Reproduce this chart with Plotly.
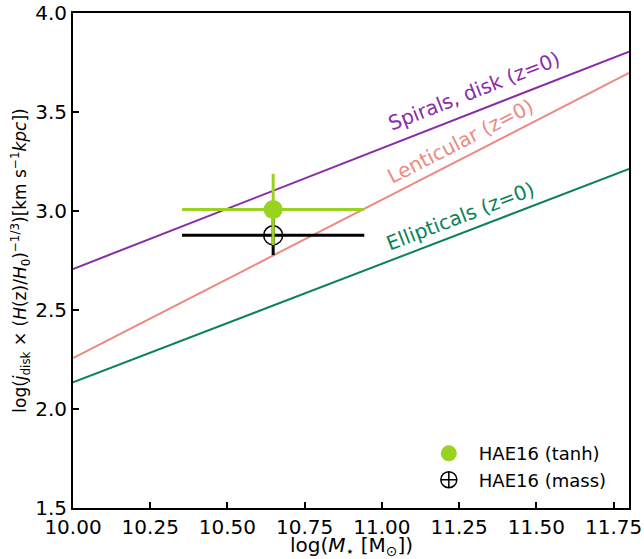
import plotly.graph_objects as go

# Reference relations (z=0)
line_x = [10.0, 11.8]
spirals_y = [2.707, 3.805]
lenticular_y = [2.257, 3.697]
ellipticals_y = [2.135, 3.212]

# HAE16 points
tanh_x = [10.648]
tanh_y = [3.008]
tanh_xerr = [0.295]
tanh_yerr = [0.18]

mass_x = [10.648]
mass_y = [2.877]
mass_xerr = [0.295]
mass_yerr = [0.10]

FONT = "DejaVu Sans"
c_sp = "#8a2ca8"
c_le = "#ec8a82"
c_el = "#0b8257"
c_green = "#9ad31f"

fig = go.Figure()
fig.add_trace(go.Scatter(x=line_x, y=spirals_y, mode="lines", line=dict(color=c_sp, width=2), showlegend=False))
fig.add_trace(go.Scatter(x=line_x, y=lenticular_y, mode="lines", line=dict(color=c_le, width=2), showlegend=False))
fig.add_trace(go.Scatter(x=line_x, y=ellipticals_y, mode="lines", line=dict(color=c_el, width=2), showlegend=False))

fig.add_trace(go.Scatter(
    x=mass_x, y=mass_y, mode="markers", name="HAE16 (mass)",
    marker=dict(symbol="circle-cross-open", size=19, color="black", line=dict(width=1.5, color="black")),
    error_x=dict(type="data", array=mass_xerr, color="black", thickness=3, width=0),
    error_y=dict(type="data", array=mass_yerr, color="black", thickness=3, width=0),
    legendrank=2,
))
fig.add_trace(go.Scatter(
    x=tanh_x, y=tanh_y, mode="markers", name="HAE16 (tanh)",
    marker=dict(symbol="circle", size=19, color=c_green),
    error_x=dict(type="data", array=tanh_xerr, color=c_green, thickness=3, width=0),
    error_y=dict(type="data", array=tanh_yerr, color=c_green, thickness=3, width=0),
    legendrank=1,
))

annots = [
    dict(x=11.298, y=3.606, text="Spirals, disk (z=0)", color=c_sp, angle=-21.4),
    dict(x=11.256, y=3.354, text="Lenticular (z=0)", color=c_le, angle=-27.1),
    dict(x=11.256, y=2.975, text="Ellipticals (z=0)", color=c_el, angle=-21.0),
]
for a in annots:
    fig.add_annotation(x=a["x"], y=a["y"], text=a["text"], showarrow=False,
                       textangle=a["angle"], font=dict(family=FONT, size=20, color=a["color"]))

# x-axis title placed as a paper annotation (so it can sit closer to the frame bottom)
fig.add_annotation(x=0.5, y=-0.077, xref="paper", yref="paper", xanchor="center", yanchor="middle",
                   text="log(<i>M</i><sub>⋆</sub> [M<sub>⊙</sub>])", showarrow=False,
                   font=dict(family=FONT, size=20, color="black"))

axis_common = dict(showgrid=False, zeroline=False, showline=True, linecolor="black", linewidth=2,
                   mirror=True, ticks="inside", ticklen=6, tickwidth=1.5, tickcolor="black",
                   automargin=False,
                   tickfont=dict(family=FONT, size=20, color="black"))
fig.update_xaxes(range=[10.0, 11.8], tickvals=[10.0, 10.25, 10.5, 10.75, 11.0, 11.25, 11.5, 11.75],
                 tickformat=".2f",
                 **axis_common)
fig.update_yaxes(range=[1.5, 4.0], tickvals=[1.5, 2.0, 2.5, 3.0, 3.5, 4.0], tickformat=".1f",
                 title=dict(text="log(<i>j</i><sub>disk</sub> × (<i>H</i>(z)/<i>H</i><sub>0</sub>)<sup>−1/3</sup>)[km s<sup>−1</sup><i>kpc</i>])",
                            font=dict(family=FONT, size=17, color="black"), standoff=4),
                 **axis_common)

fig.update_layout(
    width=644, height=559,
    margin=dict(l=73, r=15, t=13, b=51),
    plot_bgcolor="white", paper_bgcolor="white",
    font=dict(family=FONT, color="black"),
    legend=dict(x=0.622, y=0.02, xanchor="left", yanchor="bottom", bgcolor="rgba(0,0,0,0)",
                font=dict(family=FONT, size=18, color="black"), itemsizing="trace", itemwidth=50),
)

fig.write_html("out.html")
